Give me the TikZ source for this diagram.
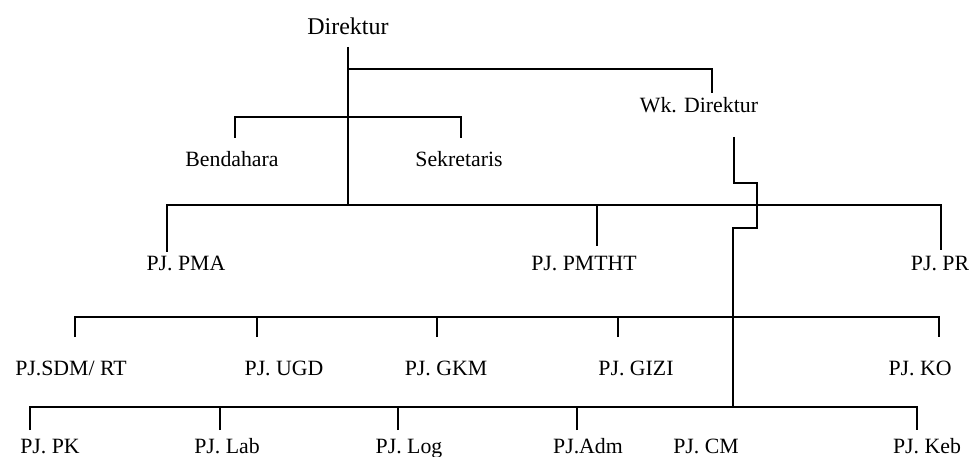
\documentclass[tikz,border=0pt]{standalone}
\usepackage{fontspec}
\setmainfont{Liberation Serif}
\begin{document}
\begin{tikzpicture}[x=1pt,y=-1pt,line width=1.3pt]
\tikzset{lbl/.style={anchor=base,inner sep=0pt,font=\fontsize{21.8}{24}\selectfont},
         link/.style={draw=black,line width=1.4pt}}
\useasboundingbox (0,0) rectangle (975,457);
% labels
\node[lbl,font=\fontsize{24}{27}\selectfont] (dir) at (348,35) {Direktur};
\node[lbl] (wk) at (699,113) {Wk. Direktur};
\node[lbl] (bend) at (232,167) {Bendahara};
\node[lbl] (sek) at (459,167) {Sekretaris};
\node[lbl] (pma) at (186,271) {PJ. PMA};
\node[lbl] (pmtht) at (584,271) {PJ. PMTHT};
\node[lbl] (pr) at (940,271) {PJ. PR};
\node[lbl] (sdm) at (71,375) {PJ.SDM/ RT};
\node[lbl] (ugd) at (284,375) {PJ. UGD};
\node[lbl] (gkm) at (446,375) {PJ. GKM};
\node[lbl] (gizi) at (636,375) {PJ. GIZI};
\node[lbl] (ko) at (920,375) {PJ. KO};
\node[lbl] (pk) at (50,453) {PJ. PK};
\node[lbl] (lab) at (227,453) {PJ. Lab};
\node[lbl] (log) at (409,453) {PJ. Log};
\node[lbl] (adm) at (588,453) {PJ.Adm};
\node[lbl] (cm) at (706,453) {PJ. CM};
\node[lbl] (keb) at (927,453) {PJ. Keb};
% connector points
\coordinate (dtop) at (348,47);
\coordinate (dwk) at (348,69);
\coordinate (dsec) at (348,117);
\coordinate (dbus) at (348,205);
\coordinate (wktop) at (712,93);
\coordinate (bendt) at (235,138);
\coordinate (sekt) at (461,138);
\coordinate (pmat) at (167,252);
\coordinate (pmthtt) at (597,246);
\coordinate (prt) at (941,250);
\coordinate (wkb) at (734,137);
\coordinate (sdmt) at (75,337);
\coordinate (ugdt) at (257,337);
\coordinate (gkmt) at (437,337);
\coordinate (gizit) at (618,337);
\coordinate (kot) at (939,337);
\coordinate (pkt) at (30,430);
\coordinate (labt) at (220,430);
\coordinate (logt) at (398,430);
\coordinate (admt) at (577,430);
\coordinate (kebt) at (917,430);
\coordinate (bus3) at (733,317);
\coordinate (bus4) at (733,407);
% lines
\draw[link] (dtop) -- (dbus);
\draw[link] (dwk) -| (wktop);
\draw[link] (bendt) |- (dsec) -| (sekt);
\draw[link] (pmat) |- (dbus) -| (prt);
\draw[link] (pmthtt) |- (dbus);
\draw[link] (wkb) -- (734,183) -- (757,183) -- (757,228) -- (733,228) -- (bus4);
\draw[link] (sdmt) |- (bus3) -| (kot);
\draw[link] (ugdt) -- (ugdt |- bus3);
\draw[link] (gkmt) -- (gkmt |- bus3);
\draw[link] (gizit) -- (gizit |- bus3);
\draw[link] (pkt) |- (bus4) -| (kebt);
\draw[link] (labt) -- (labt |- bus4);
\draw[link] (logt) -- (logt |- bus4);
\draw[link] (admt) -- (admt |- bus4);
\end{tikzpicture}
\end{document}
